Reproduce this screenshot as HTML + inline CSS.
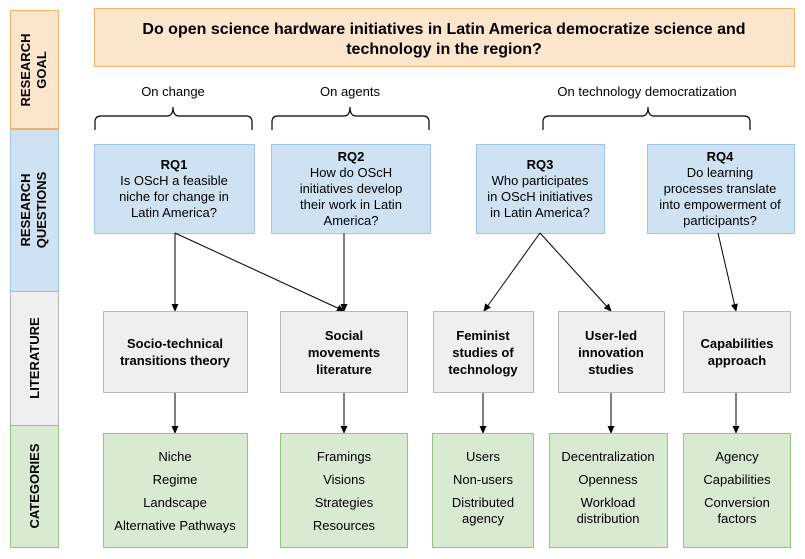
<!DOCTYPE html>
<html><head><meta charset="utf-8"><style>
html,body{margin:0;padding:0;background:#fff;}
svg{display:block;font-family:"Liberation Sans",Arial,sans-serif;}
</style></head><body>
<svg width="805" height="559" viewBox="0 0 805 559" xmlns="http://www.w3.org/2000/svg">
<defs><marker id="a" markerWidth="8" markerHeight="8" refX="7" refY="4" orient="auto" markerUnits="userSpaceOnUse"><path d="M0,0.5 L8,4 L0,7.5 z" fill="#000"/></marker></defs>
<!-- side bands -->
<rect x="10.5" y="10.5" width="48" height="118" fill="#fce5cd" stroke="#f6b26b"/>
<rect x="10.5" y="129.5" width="48" height="162" fill="#cfe2f3" stroke="#9fc5e8"/>
<rect x="10.5" y="291.5" width="48" height="134" fill="#efefef" stroke="#b7b7b7"/>
<rect x="10.5" y="425.5" width="48" height="122" fill="#d9ead3" stroke="#93c47d"/>
<g font-weight="bold" font-size="13" text-anchor="middle" fill="#000">
<text transform="translate(30,70) rotate(-90)">RESEARCH</text>
<text transform="translate(46,70) rotate(-90)">GOAL</text>
<text transform="translate(30,210) rotate(-90)">RESEARCH</text>
<text transform="translate(46,210) rotate(-90)">QUESTIONS</text>
<text transform="translate(39,358) rotate(-90)">LITERATURE</text>
<text transform="translate(39,486) rotate(-90)">CATEGORIES</text>
</g>
<!-- goal -->
<rect x="94.5" y="8.5" width="700" height="58" fill="#fce5cd" stroke="#f6b26b"/>
<g font-weight="bold" font-size="16" text-anchor="middle">
<text x="444" y="34">Do open science hardware initiatives in Latin America democratize science and</text>
<text x="444" y="54">technology in the region?</text>
</g>
<!-- braces -->
<g fill="none" stroke="#000" stroke-width="1.2">
<path d="M95,130 L95,122 Q95,116 101,116 L167,116 Q173,116 173,107 Q173,116 179,116 L246,116 Q252,116 252,122 L252,130"/>
<path d="M272,130 L272,122 Q272,116 278,116 L344,116 Q350,116 350,107 Q350,116 356,116 L423,116 Q429,116 429,122 L429,130"/>
<path d="M543,130 L543,122 Q543,116 549,116 L642,116 Q648,116 648,107 Q648,116 654,116 L744,116 Q750,116 750,122 L750,130"/>
</g>
<g font-size="13" text-anchor="middle">
<text x="173" y="96">On change</text>
<text x="350" y="96">On agents</text>
<text x="647" y="96">On technology democratization</text>
</g>
<!-- RQ boxes -->
<g fill="#cfe2f3" stroke="#9fc5e8">
<rect x="94.5" y="144.5" width="160" height="89"/>
<rect x="271.5" y="144.5" width="159" height="89"/>
<rect x="476.5" y="144.5" width="128" height="89"/>
<rect x="647.5" y="144.5" width="147" height="89"/>
</g>
<g font-size="13" text-anchor="middle">
<text x="174" y="169" font-weight="bold">RQ1</text>
<text x="174" y="185">Is OScH a feasible</text>
<text x="174" y="201">niche for change in</text>
<text x="174" y="217">Latin America?</text>
<text x="351" y="161" font-weight="bold">RQ2</text>
<text x="351" y="177">How do OScH</text>
<text x="351" y="193">initiatives develop</text>
<text x="351" y="209">their work in Latin</text>
<text x="351" y="225">America?</text>
<text x="540" y="169" font-weight="bold">RQ3</text>
<text x="540" y="185">Who participates</text>
<text x="540" y="201">in OScH initiatives</text>
<text x="540" y="217">in Latin America?</text>
<text x="720" y="161" font-weight="bold">RQ4</text>
<text x="720" y="177">Do learning</text>
<text x="720" y="193">processes translate</text>
<text x="720" y="209">into empowerment of</text>
<text x="720" y="225">participants?</text>
</g>
<!-- arrows -->
<g stroke="#000" stroke-width="1" marker-end="url(#a)">
<line x1="175" y1="233" x2="175" y2="311"/>
<line x1="175" y1="233" x2="344" y2="311"/>
<line x1="344" y1="233" x2="344" y2="311"/>
<line x1="540" y1="233" x2="484" y2="311"/>
<line x1="540" y1="233" x2="611" y2="311"/>
<line x1="718" y1="233" x2="736" y2="311"/>
<line x1="175" y1="392" x2="175" y2="433"/>
<line x1="344" y1="392" x2="344" y2="433"/>
<line x1="483" y1="392" x2="483" y2="433"/>
<line x1="611" y1="392" x2="611" y2="433"/>
<line x1="736" y1="392" x2="736" y2="433"/>
</g>
<!-- literature -->
<g fill="#efefef" stroke="#b7b7b7">
<rect x="103.5" y="311.5" width="144" height="81"/>
<rect x="280.5" y="311.5" width="127" height="81"/>
<rect x="433.5" y="311.5" width="100" height="81"/>
<rect x="558.5" y="311.5" width="106" height="81"/>
<rect x="683.5" y="311.5" width="107" height="81"/>
</g>
<g font-size="13" font-weight="bold" text-anchor="middle">
<text x="175" y="348">Socio-technical</text>
<text x="175" y="365">transitions theory</text>
<text x="344" y="340">Social</text>
<text x="344" y="357">movements</text>
<text x="344" y="374">literature</text>
<text x="483" y="340">Feminist</text>
<text x="483" y="357">studies of</text>
<text x="483" y="374">technology</text>
<text x="611" y="340">User-led</text>
<text x="611" y="357">innovation</text>
<text x="611" y="374">studies</text>
<text x="737" y="348">Capabilities</text>
<text x="737" y="365">approach</text>
</g>
<!-- categories -->
<g fill="#d9ead3" stroke="#93c47d">
<rect x="103.5" y="433.5" width="144" height="114"/>
<rect x="280.5" y="433.5" width="127" height="114"/>
<rect x="432.5" y="433.5" width="101" height="114"/>
<rect x="549.5" y="433.5" width="118" height="114"/>
<rect x="683.5" y="433.5" width="107" height="114"/>
</g>
<g font-size="13" text-anchor="middle">
<text x="175" y="461">Niche</text>
<text x="175" y="484">Regime</text>
<text x="175" y="507">Landscape</text>
<text x="175" y="530">Alternative Pathways</text>
<text x="344" y="461">Framings</text>
<text x="344" y="484">Visions</text>
<text x="344" y="507">Strategies</text>
<text x="344" y="530">Resources</text>
<text x="483" y="461">Users</text>
<text x="483" y="484">Non-users</text>
<text x="483" y="507">Distributed</text>
<text x="483" y="523">agency</text>
<text x="608" y="461">Decentralization</text>
<text x="608" y="484">Openness</text>
<text x="608" y="507">Workload</text>
<text x="608" y="523">distribution</text>
<text x="737" y="461">Agency</text>
<text x="737" y="484">Capabilities</text>
<text x="737" y="507">Conversion</text>
<text x="737" y="523">factors</text>
</g>
</svg>
</body></html>
